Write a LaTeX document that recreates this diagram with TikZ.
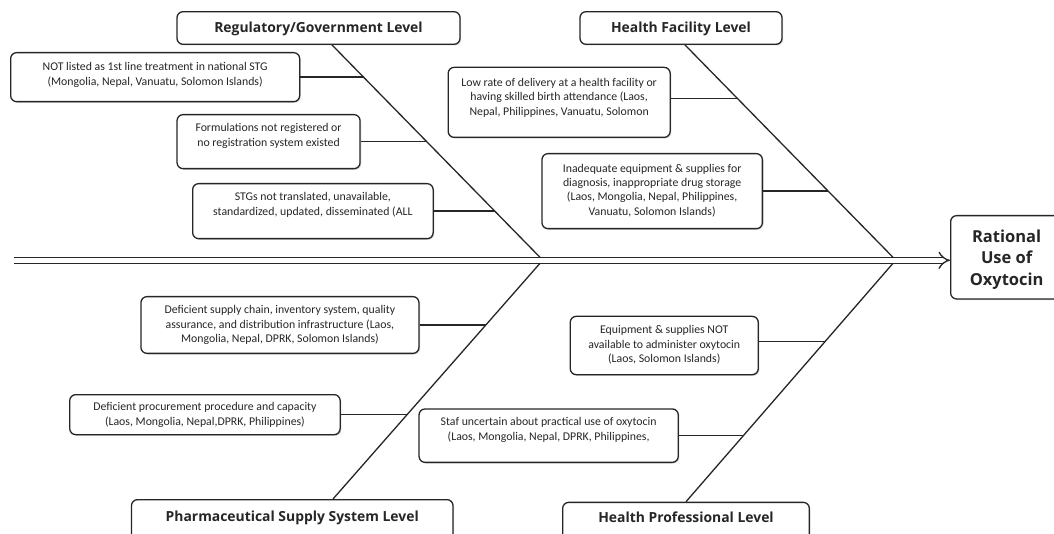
\documentclass[tikz,border=0pt]{standalone}
\usepackage{fontspec}
\setmainfont{Carlito}
\newfontfamily\headfont{Open Sans}
\usetikzlibrary{arrows.meta,calc,intersections,shadows}
\newcommand{\bx}[4]{\parbox[c][#2pt][t]{#1pt}{\centering\rule{0pt}{#3pt}#4\par}}
\newcommand{\subbone}[3]{%
  \path[name path=hp#1] ($(#1.east)+(0,#3)$) -- ++(400,0);
  \draw[bone, name intersections={of=hp#1 and #2}] ($(#1.east)+(0,#3)$) -- (intersection-1);}
\tikzset{
  box/.style={draw=black!85, line width=1.3pt, rounded corners=6pt, fill=white, inner sep=0pt,
    drop shadow={shadow xshift=1.2pt, shadow yshift=-1.2pt, opacity=0.3}},
  body/.style={font=\fontsize{11.8}{14.4}\selectfont, text=black!85},
  head/.style={font=\headfont\bfseries\fontsize{13.9}{17}\selectfont, text=black!85},
  bone/.style={draw=black!85, line width=1.3pt},
}
\begin{document}
\begin{tikzpicture}[x=1pt,y=-1pt]
\clip (0,0) rectangle (1054,534);
\fill[white] (0,0) rectangle (1054,534);

% heading boxes
\node[box,head] (reg) at (318.5,28) {\bx{283}{32.6}{20.6}{Regulatory/Government Level}};
\node[box,head] (hfac) at (681,28) {\bx{202}{32.6}{21}{Health Facility Level}};
\node[box,head,anchor=north] (pharm) at (292.25,499) {\bx{321.5}{45}{21.5}{Pharmaceutical Supply System Level}};
\node[box,head,anchor=north] (hprof) at (686,501.7) {\bx{246.6}{45}{20.5}{Health Professional Level}};
\node[box,font=\headfont\bfseries\fontsize{16.5}{21.6}\selectfont,text=black!85,anchor=north west] (rat) at (950,215) {\bx{112}{83.3}{26.5}{Rational\\Use of\\Oxytocin}};

% cause boxes
\node[box,body,anchor=north west] (n1) at (10,52) {\bx{289}{49}{18}{NOT listed as 1st line treatment in national STG\\(Mongolia, Nepal, Vanuatu, Solomon Islands)}};
\node[box,body,anchor=north west] (n2) at (176.4,114) {\bx{183}{54}{17}{Formulations not registered or\\no registration system existed}};
\node[box,body,anchor=north west] (n3) at (192,183) {\bx{240.5}{55}{17}{STGs not translated, unavailable,\\standardized, updated, disseminated (ALL}};
\node[box,body,anchor=north west] (n4) at (447.5,66.7) {\bx{222}{70}{19}{Low rate of delivery at a health facility or\\having skilled birth attendance (Laos,\\Nepal, Philippines, Vanuatu, Solomon}};
\node[box,body,anchor=north west] (n5) at (541.3,153) {\bx{220.4}{75}{18.5}{Inadequate equipment \& supplies for\\diagnosis, inappropriate drug storage\\(Laos, Mongolia, Nepal, Philippines,\\Vanuatu, Solomon Islands)}};
\node[box,body,anchor=north west] (n6) at (140.3,296) {\bx{278}{56.7}{17}{Deficient supply chain, inventory system, quality\\assurance, and distribution infrastructure (Laos,\\Mongolia, Nepal, DPRK, Solomon Islands)}};
\node[box,body,anchor=north west] (n7) at (69.1,394) {\bx{270.4}{40}{16}{Deficient procurement procedure and capacity\\(Laos, Mongolia, Nepal,DPRK, Philippines)}};
\node[box,body,anchor=north west] (n8) at (569.6,315.7) {\bx{188}{58.3}{17.5}{Equipment \& supplies NOT\\available to administer oxytocin\\(Laos, Solomon Islands)}};
\node[box,body,anchor=north west] (n9) at (418.4,408.3) {\bx{259.2}{53.4}{17}{Staf uncertain about practical use of oxytocin\\(Laos, Mongolia, Nepal, DPRK, Philippines,}};

% spine
\coordinate (s0) at (14,260.3);
\draw[draw=black!85, line width=1.3pt, double, double distance=4.7pt, -{Implies}] (s0) -- (s0 -| rat.west);

\coordinate (jt1) at (540,257.3);
\coordinate (jb1) at (540,263.3);
\coordinate (jt2) at (893,257.3);
\coordinate (jb2) at (893,263.3);

% main bones
\draw[bone, name path=d1] ($(reg.south)+(13.5,0)$) -- (jt1);
\draw[bone, name path=d2] ($(hfac.south)+(4,0)$) -- (jt2);
\draw[bone, name path=d3] ($(pharm.north)+(40.75,0)$) -- (jb1);
\draw[bone, name path=d4] (hprof.north) -- (jb2);

% sub bones
\subbone{n1}{d1}{0}
\subbone{n2}{d1}{0}
\subbone{n3}{d1}{0}
\subbone{n4}{d2}{-4}
\subbone{n5}{d2}{0}
\subbone{n6}{d3}{0}
\subbone{n7}{d3}{0}
\subbone{n8}{d4}{-4}
\subbone{n9}{d4}{0}
\end{tikzpicture}
\end{document}
